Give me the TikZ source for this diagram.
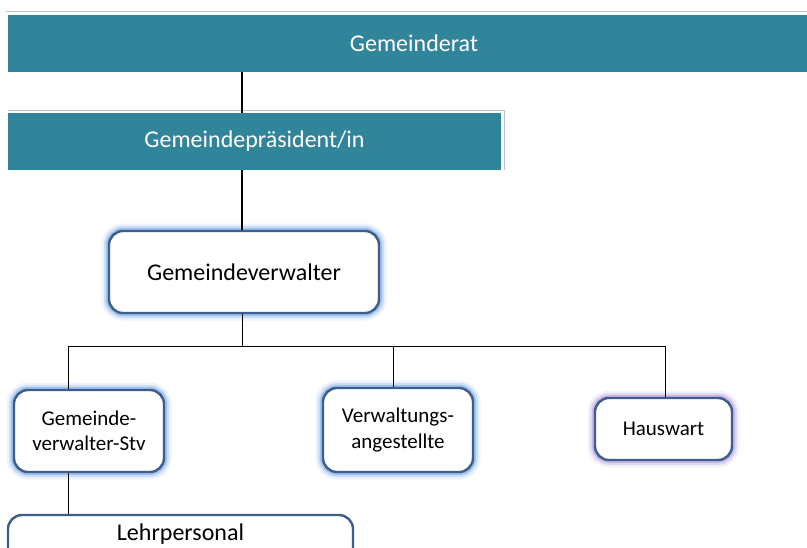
\documentclass[tikz,border=0pt]{standalone}
\usepackage{fontspec}
\setmainfont{Carlito}
\usepackage{tikz}
\definecolor{teal}{RGB}{49,133,155}
\definecolor{rim}{RGB}{59,94,140}
\definecolor{glowblue}{RGB}{130,175,232}
\definecolor{glowlila}{RGB}{185,160,220}

\begin{document}
\begin{tikzpicture}[
     x = 1pt, y = -1pt,
     every node/.style = {
     	inner sep = 0pt, align = center, font = \fontsize{24}{28}\selectfont},
     bar/.style = {fill = teal, text = white, minimum height = 57pt},
     post/.style = {rounded corners = 14pt, draw = rim, line width = 2.4pt, fill = white},
     glow/.style = {post,
        preaction = {draw = #1, line width = 15pt, opacity = .15},
        preaction = {draw = #1, line width = 10pt, opacity = .3},
        preaction = {draw = #1, line width = 6pt, opacity = .6}},
     small/.style = {font = \fontsize{21}{25.5}\selectfont},
     every path/.style = {black, line width = .8pt}
     ]
     \useasboundingbox (0,0) rectangle (807,547);

       \draw[gray!50, line width = 1pt] (6,11) -- (820,11);
       \node[bar, minimum width = 812pt] (rat) at (414,43) {Gemeinderat}; % 0
       \draw[gray!50, line width = 1pt] (8,110) -- (504,110) -- (504,170);
       \node[bar, minimum width = 493pt] (praes) at (254.5,141.5) {Gemeindepräsident/in}; % 1
       \node[glow = glowblue, minimum width = 270pt, minimum height = 82pt] (verw) at (244,272) {Gemeindeverwalter}; % 2
       \node[glow = glowblue, small, minimum width = 150pt, minimum height = 82pt] (stv) at (89,431) {Gemeinde-\\verwalter-Stv}; % 3
       \node[glow = glowblue, small, minimum width = 150pt, minimum height = 84pt] (angest) at (398,430) {Verwaltungs-\\angestellte}; % 4
       \node[glow = glowlila, small, minimum width = 137pt, minimum height = 62pt] (haus) at (663.5,429) {Hauswart}; % 5
       \node[post, minimum width = 345pt, minimum height = 60pt, text depth = 25pt] (lehr) at (180.5,545) {Lehrpersonal}; % 6

       \coordinate (spine) at (242,346);
       \coordinate (left) at (68,346);
       \coordinate (mid) at (393,346);
       \coordinate (right) at (665,346);
       \draw[line width = 2pt] (rat.south -| spine)--(praes.north -| spine);
       \draw[line width = 2pt] (praes.south -| spine)--(verw.north -| spine);
       \draw (verw.south -| spine)--(spine);
       \draw (left)--(right);
       \draw (left)--(stv.north -| left);
       \draw (mid)--(angest.north -| mid);
       \draw (right)--(haus.north -| right);
       \draw (stv.south -| left)--(lehr.north -| left);
      \end{tikzpicture}
\end{document}
